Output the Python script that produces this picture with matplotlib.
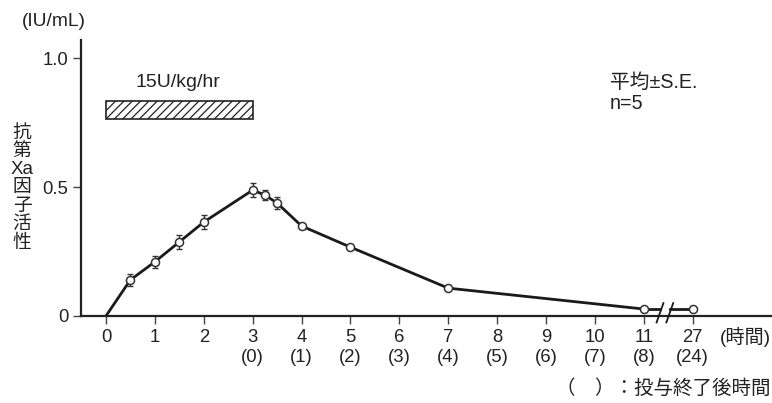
import matplotlib
matplotlib.use("Agg")
import matplotlib.pyplot as plt
from matplotlib.patches import Rectangle
import matplotlib.transforms as mtransforms

plt.rcParams['font.family'] = ['Liberation Sans', 'Noto Sans CJK JP', 'DejaVu Sans']
plt.rcParams['hatch.linewidth'] = 0.9

# Data
time_pos = [0, 0.5, 1, 1.5, 2, 3, 3.25, 3.5, 4, 5, 7, 11, 12]   # 12 = 27 h (broken axis)
activity = [0.0, 0.14, 0.21, 0.287, 0.364, 0.488, 0.469, 0.438, 0.349, 0.267, 0.108, 0.027, 0.027]
sem = [0.0, 0.022, 0.023, 0.027, 0.028, 0.026, 0.02, 0.023, 0.005, 0.005, 0.004, 0.003, 0.003]

tick_pos = list(range(13))
tick_labels = ['0', '1', '2', '3', '4', '5', '6', '7', '8', '9', '10', '11', '27']
post_labels = ['', '', '', '(0)', '(1)', '(2)', '(3)', '(4)', '(5)', '(6)', '(7)', '(8)', '(24)']
infusion = (0, 3)
infusion_label = '15U/kg/hr'

FS = 13.3
TC = '#222222'

fig = plt.figure(figsize=(7.72, 4.03), dpi=100)
ax = fig.add_axes([81/772, 87/403, 690/772, 276/403])
ax.set_xlim(-0.51, 13.6)
ax.set_ylim(0, 1.07)

for s in ['top', 'right']:
    ax.spines[s].set_visible(False)
for s in ['left', 'bottom']:
    ax.spines[s].set_linewidth(1.6)
    ax.spines[s].set_color(TC)

ax.set_yticks([0, 0.5, 1.0])
ax.set_yticklabels(['0', '0.5', '1.0'])
ax.set_xticks(tick_pos)
ax.set_xticklabels(tick_labels)
ax.tick_params(axis='both', direction='out', length=6, width=1.0, color='#444444',
               labelsize=FS, labelcolor=TC)
ax.tick_params(axis='x', pad=3)
ax.tick_params(axis='y', pad=3)

# main curve (split at break)
ax.plot(time_pos[:-1], activity[:-1], color='#1a1a1a', lw=2, zorder=2)
bx0, bx1 = 11.33, 11.53
ax.plot([time_pos[-2], bx0], [activity[-2], activity[-2]], color='#1a1a1a', lw=2, zorder=2)
ax.plot([bx1, time_pos[-1]], [activity[-1], activity[-1]], color='#1a1a1a', lw=2, zorder=2)
for bx in (bx0, bx1):
    ax.plot([bx - 0.07, bx + 0.07], [-0.025, 0.05], color='#1a1a1a', lw=1.3,
            zorder=3, clip_on=False)

ax.errorbar(time_pos[1:], activity[1:], yerr=sem[1:], fmt='none', ecolor='#333333',
            elinewidth=1, capsize=2.2, capthick=1, zorder=3)
ax.plot(time_pos[1:], activity[1:], 'o', ms=5.8, mfc='white', mec='#333333', mew=1.1, zorder=4)

# infusion bar
rect = Rectangle((infusion[0], 0.765), infusion[1]-infusion[0], 0.068, facecolor='white',
                 edgecolor=TC, hatch='////', lw=1.2, zorder=2)
ax.add_patch(rect)
ax.text((infusion[0]+infusion[1])/2 - 0.03, 0.872, infusion_label, ha='center', va='bottom',
        fontsize=FS + 0.7, color=TC)

# post-infusion labels row
trans = mtransforms.blended_transform_factory(ax.transData, fig.transFigure)
for p, lab in zip(tick_pos, post_labels):
    if lab:
        ax.text(p, 1 - 358/403, lab, transform=trans, ha='center', va='center',
                fontsize=FS, color=TC)
fig.text(745/772, 1 - 337/403, '(時間)', ha='center', va='center', fontsize=FS + 0.5, color=TC)
fig.text(771/772, 1 - 388/403, '（\u3000）：投与終了後時間', ha='right', va='center',
         fontsize=14, color=TC, family=['Noto Sans CJK JP', 'DejaVu Sans'])

fig.text(54/772, 1 - 22/403, '(IU/mL)', ha='center', va='center', fontsize=FS + 0.5, color=TC)
fig.text(22/772, 1 - 188/403, '抗\n第\nXa\n因\n子\n活\n性', ha='center', va='center',
         fontsize=13.5, color=TC, linespacing=1.1)

fig.text(610/772, 1 - 82/403, '平均±S.E.', ha='left', va='center', fontsize=14.2, color=TC)
fig.text(610/772, 1 - 103/403, 'n=5', ha='left', va='center', fontsize=14.2, color=TC)

fig.savefig('out.png', dpi=100)
